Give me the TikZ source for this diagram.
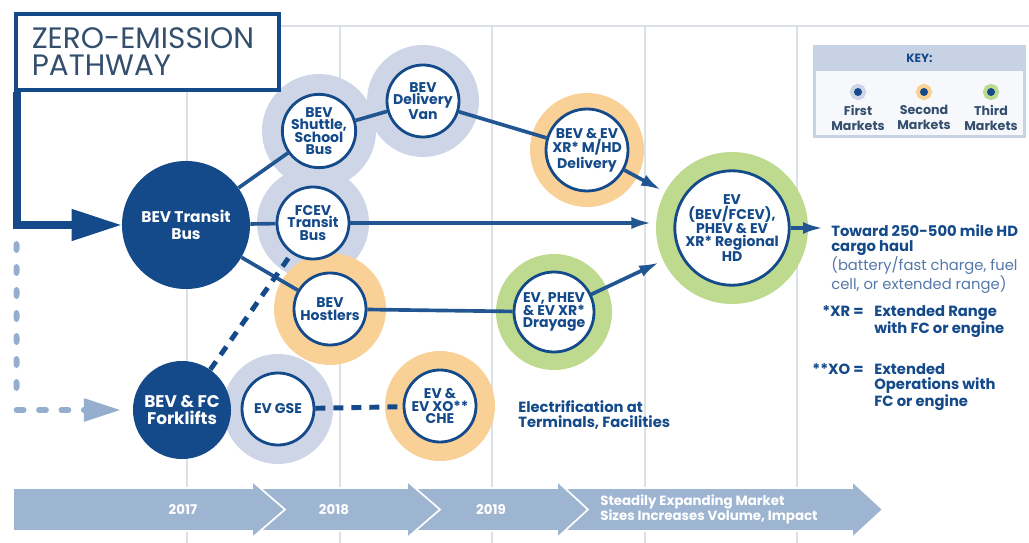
\documentclass[tikz,border=0pt]{standalone}
\usepackage{fontspec}
\setmainfont{Poppins}
\usetikzlibrary{arrows.meta, positioning, backgrounds}
\definecolor{navy}{RGB}{20, 74, 138}
\definecolor{linkblue}{RGB}{34, 86, 146}
\definecolor{slatetext}{RGB}{52, 78, 110}
\definecolor{halogray}{RGB}{205, 213, 230}
\definecolor{haloorange}{RGB}{249, 208, 150}
\definecolor{halogreen}{RGB}{190, 218, 142}
\definecolor{bandblue}{RGB}{158, 181, 209}
\definecolor{ghostblue}{RGB}{150, 174, 205}
\definecolor{gridgray}{RGB}{220, 224, 231}
\definecolor{keyfill}{RGB}{199, 211, 229}
\definecolor{keybody}{RGB}{246, 248, 251}
\definecolor{notelight}{RGB}{84, 120, 170}

\begin{document}
\begin{tikzpicture}[
    x=0.025cm, y=-0.025cm,
    mktnode/.style={
        circle,
        draw=navy,
        line width=2pt,
        fill=white,
        minimum size=1.8cm,
        inner sep=0pt,
        align=center,
        text=navy,
        font=\bfseries\fontsize{10}{8.9}\selectfont
    },
    fleetnode/.style={
        circle,
        fill=navy,
        inner sep=0pt,
        align=center,
        text=white,
        font=\bfseries\fontsize{11}{12}\selectfont
    },
    titlebox/.style={
        rectangle,
        draw=navy,
        line width=2.8pt,
        fill=white,
        minimum width=6.58cm,
        minimum height=1.9cm,
        inner xsep=0.4cm,
        text width=5.78cm,
        align=left,
        text=slatetext,
        font=\fontsize{21}{19}\selectfont
    },
    notebold/.style={inner sep=0pt, align=left, text=navy, font=\bfseries\fontsize{10.5}{10.7}\selectfont},
    notelite/.style={inner sep=0pt, align=left, text=notelight, font=\fontsize{10.5}{10.7}\selectfont},
    bandtext/.style={inner sep=0pt, align=left, text=white, font=\bfseries\fontsize{9.5}{10.7}\selectfont},
    keydot/.style={circle, fill=navy, minimum size=0.2cm, inner sep=0pt, preaction={draw=#1, line width=0.2cm}},
    keylabel/.style={inner sep=0pt, align=center, text=slatetext, font=\bfseries\fontsize{9}{10.7}\selectfont},
    linkline/.style={draw=linkblue, line width=2.6pt},
    headed/.style={-{Latex[length=0.5cm, width=0.3cm]}},
    dashline/.style={draw=navy, line width=3.5pt, dash pattern=on 0.25cm off 0.2cm},
    ghostbar/.style={fill=ghostblue, rounded corners=2.5},
    ghostline/.style={draw=ghostblue, line width=4pt, line cap=round, dash pattern=on 0.18cm off 0.38cm},
    mainline/.style={draw=navy, line width=0.19cm, -{Triangle[length=1.25cm, width=0.75cm]}}
]
    \useasboundingbox (0,0) rectangle (1029,543);

    % Title
    \node[titlebox, anchor=north west] (title) at (13.8,11.7) {ZERO-EMISSION\\PATHWAY};

    % Vehicles
    \node[fleetnode, minimum size=3.2cm] (bus) at (186,225) {BEV Transit\\Bus};
    \node[fleetnode, minimum size=2.45cm, font=\bfseries\fontsize{12}{12.5}\selectfont] (fork) at (182,410) {BEV \& FC\\Forklifts};
    \node[mktnode] (shuttle) at (319,131) {BEV\\Shuttle,\\School\\Bus};
    \node[mktnode] (van) at (423,101) {BEV\\Delivery\\Van};
    \node[mktnode] (fcev) at (313,223) {FCEV\\Transit\\Bus};
    \node[mktnode] (hostl) at (330,309) {BEV\\Hostlers};
    \node[mktnode] (gse) at (278,409) {EV GSE};
    \node[mktnode] (che) at (440,406) {EV \&\\EV XO**\\CHE};
    \node[mktnode, minimum size=1.95cm] (mhd) at (587,150) {BEV \& EV\\XR* M/HD\\Delivery};
    \node[mktnode, minimum size=2cm] (dray) at (554,312) {EV, PHEV\\\& EV XR*\\Drayage};
    \node[mktnode, minimum size=2.7cm] (rhd) at (732,228) {EV\\(BEV/FCEV),\\PHEV \& EV\\XR* Regional\\HD};

    % Grid and market rings
    \begin{scope}[on background layer]
        \foreach \gx in {187, 340, 492, 645, 797}
            \draw[gridgray, line width=1pt] (\gx,26) -- (\gx,543);
        \draw[gridgray, line width=1pt] (277,26) -- (1029,26);
        \foreach \mk/\rr/\cc in {shuttle/57/halogray, van/56/halogray, fcev/56/halogray,
                gse/55/halogray, hostl/56/haloorange, che/55/haloorange, mhd/57/haloorange,
                dray/58/halogreen, rhd/76/halogreen}
            \fill[\cc] (\mk) circle (\rr);
    \end{scope}

    % Entry arrows
    \draw[mainline] ([xshift=0.075cm]title.south west) |- (bus);
    \coordinate (gcorner) at (16.5,410);
    \foreach \gy in {241, 264, 287, 310, 333, 356, 379}
        \fill[ghostbar] (13.5,\gy) rectangle (19.5,\gy+12);
    \draw[ghostline, shorten >=0.3cm, -{Triangle[length=0.92cm, width=0.55cm]}] (gcorner) -- (fork);

    % Pathways
    \draw[linkline] (bus) -- (shuttle);
    \draw[linkline] (shuttle) -- (van);
    \draw[linkline] (van) -- (mhd);
    \draw[linkline, headed, shorten >=0.55cm] (mhd) -- (rhd);
    \draw[linkline] (bus) -- (fcev);
    \draw[linkline, headed, shorten >=0.55cm] (fcev) -- (fcev -| rhd.west);
    \draw[linkline] (bus) -- (hostl);
    \draw[linkline] (hostl) -- (dray);
    \draw[linkline, headed, shorten >=0.55cm] (dray) -- (rhd);
    \draw[dashline] (fork) -- (fcev);
    \draw[dashline] (gse) -- (che);

    % Notes
    \node[notebold, anchor=north west] (toward) at (831,224) {Toward 250-500 mile HD\\cargo haul};
    \node[notelite, anchor=north west] (range) at (831,256) {(battery/fast charge, fuel\\cell, or extended range)};
    \draw[linkline, headed, shorten >=0.2cm] (rhd) -- (rhd.east -| toward.west);
    \node[notebold, anchor=north east] (xrkey) at (864,305) {*XR =};
    \node[notebold, anchor=north west] (xrtext) at (874,305) {Extended Range\\with FC or engine};
    \node[notebold, anchor=north east] (xokey) at (864,363) {**XO =};
    \node[notebold, anchor=north west] (xotext) at (874,363) {Extended\\Operations with\\FC or engine};
    \node[notebold, anchor=north west] (elec) at (518,400) {Electrification at\\Terminals, Facilities};

    % Key
    \node[fill=keyfill, minimum width=5.325cm, minimum height=2.325cm, inner sep=0pt] (keybox) at (919.5,91.5) {};
    \node[fill=keybody, minimum width=5.175cm, minimum height=1.6cm, inner sep=0pt] (keyinner) at (919.5,103) {};
    \node[text=navy, font=\bfseries\fontsize{8.5}{9}\selectfont, inner sep=0pt] (keytitle) at (919.5,58) {KEY:};
    \node[keydot=halogray] (k1) at (858,92) {};
    \node[keydot=haloorange] (k2) at (924,92) {};
    \node[keydot=halogreen] (k3) at (991,92) {};
    \node[keylabel, anchor=north] (k1l) at (858,105) {First\\Markets};
    \node[keylabel, anchor=north] (k2l) at (924,105) {Second\\Markets};
    \node[keylabel, anchor=north] (k3l) at (991,105) {Third\\Markets};

    % Timeline band
    \foreach \xa/\nn/\xb/\xc in {545/33/852/883, 400/33/557/588, 250/33/407/440, 13/0/252/285}
        \filldraw[fill=bandblue, draw=white, line width=1.2pt]
            (\xa,488) -- (\xb,488) -- (\xb,481) -- (\xc,509.5) -- (\xb,538) -- (\xb,531)
            -- (\xa,531) -- (\xa+\nn,509.5) -- cycle;
    \node[bandtext] (y17) at (183,510) {2017};
    \node[bandtext] (y18) at (334,510) {2018};
    \node[bandtext] (y19) at (491,510) {2019};
    \node[bandtext, anchor=west] (ymore) at (600,509) {Steadily Expanding Market\\Sizes Increases Volume, Impact};
\end{tikzpicture}
\end{document}
